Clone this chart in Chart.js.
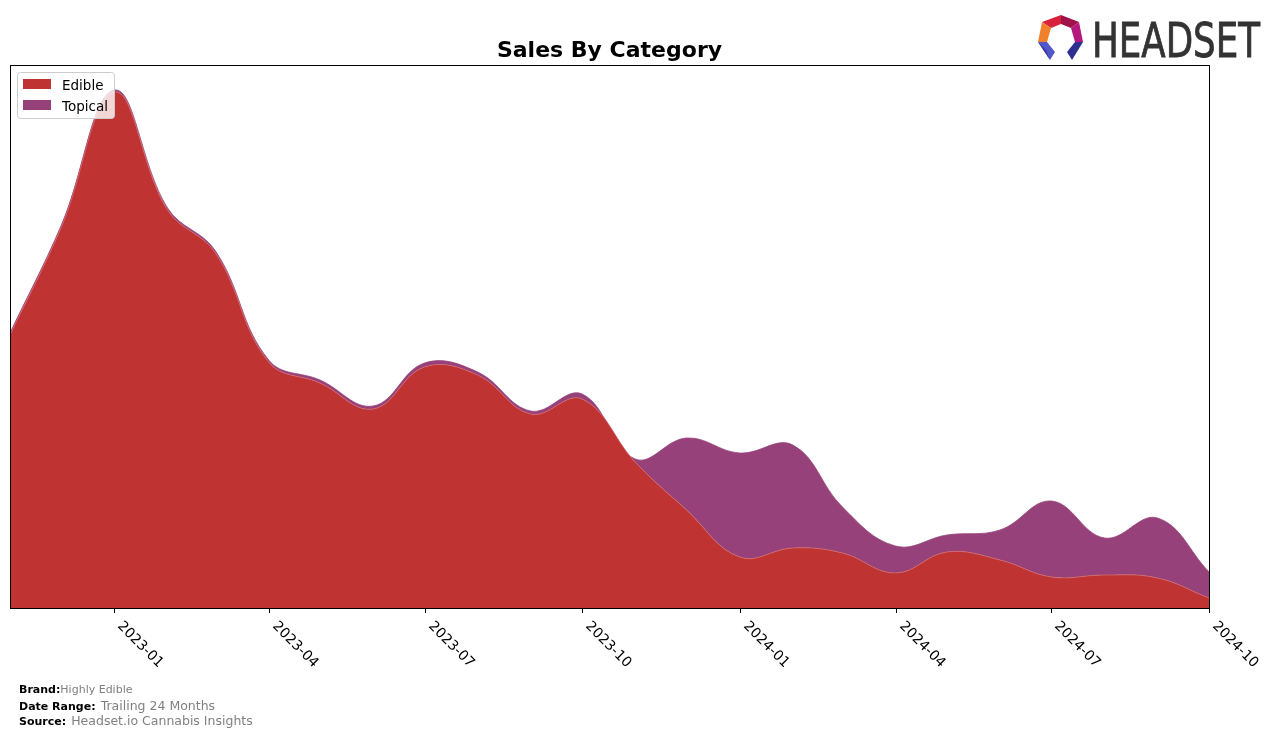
<!DOCTYPE html>
<html>
<head>
<meta charset="utf-8">
<script src="https://cdn.jsdelivr.net/npm/chart.js@4.4.1/dist/chart.umd.min.js"></script>
<style>
  body{margin:0;background:#fff;font-family:"DejaVu Sans",sans-serif;}
  #wrap{position:relative;width:1276px;height:738px;overflow:hidden;}
  #chart{position:absolute;left:0;top:0;}
  .foot{position:absolute;left:19px;white-space:nowrap;color:#000;}
  .foot b{font-size:11px;}
  .foot span{color:#808080;}
  #logo{position:absolute;left:1034px;top:12px;}
</style>
</head>
<body>
<div id="wrap">
  <canvas id="chart" width="1276" height="738"></canvas>

  <svg id="logo" width="235" height="52" viewBox="0 0 235 52">
    <!-- icon -->
    <polygon points="8,10 27,3 27,12 17,16" fill="#d8213b"/>
    <polygon points="27,3 45,10 37,16 27,12" fill="#a1124a"/>
    <polygon points="45,10 49,30 41,30 37,16" fill="#b6197d"/>
    <polygon points="8,10 17,16 13,30 4,30" fill="#f0802a"/>
    <polygon points="4,30 13,30 21,40 16,48" fill="#5057c8"/>
    <polygon points="49,30 41,30 33,40 38,48" fill="#2f2f90"/>
    <polygon points="4,30 16,48 12,38" fill="#3a3aa6"/>
    <text x="58" y="45" font-family="DejaVu Sans Condensed, DejaVu Sans, sans-serif" font-size="48" fill="#333333" stroke="#333333" stroke-width="0.8" textLength="168" lengthAdjust="spacingAndGlyphs">HEADSET</text>
  </svg>

  <div class="foot" style="top:678px;"><b>Brand:</b><span style="font-size:11px;">Highly Edible</span></div>
  <div class="foot" style="top:695px;"><b>Date Range:</b> <span style="font-size:12.5px;">Trailing 24 Months</span></div>
  <div class="foot" style="top:710px;"><b>Source:</b> <span style="font-size:12.5px;">Headset.io Cannabis Insights</span></div>
</div>

<script>
// monthly points
const months = ['2022-11','2022-12','2023-01','2023-02','2023-03','2023-04','2023-05','2023-06',
  '2023-07','2023-08','2023-09','2023-10','2023-11','2023-12','2024-01','2024-02',
  '2024-03','2024-04','2024-05','2024-06','2024-07','2024-08','2024-09','2024-10'];
const edible = [273,381,516,398,355,246,225,199,241,233,194,209,146,98,51,60,55,35,56,48,31,33,30,10];
const topical = [2,2,2,2,2,2,3,3,4,3,3,5,3,72,104,103,46,27,17,30,76,37,60,26];
const tickLabels = ['2023-01','2023-04','2023-07','2023-10','2024-01','2024-04','2024-07','2024-10'];
const seriesNames = ['Edible','Topical'];
const seriesColors = ['#c03333','#96417a'];

function toDay(m){
  const p = m.split('-');
  return Date.UTC(+p[0], +p[1]-1, 1) / 86400000;
}

const decor = {
  id:'decor',
  afterDraw(chart){
    const c = chart.ctx, a = chart.chartArea, xs = chart.scales.x;
    c.save();
    // frame
    c.strokeStyle = '#000'; c.lineWidth = 1;
    c.strokeRect(a.left+0.5, a.top+0.5, a.right-a.left, a.bottom-a.top);
    // ticks + rotated labels
    c.font = '14px "DejaVu Sans"'; c.fillStyle = '#000';
    tickLabels.forEach(t=>{
      const x = Math.round(xs.getPixelForValue(toDay(t))) + 0.5;
      c.beginPath(); c.moveTo(x, a.bottom); c.lineTo(x, a.bottom+5); c.stroke();
      c.save();
      c.translate(x, a.bottom+21);
      c.rotate(Math.PI/4);
      c.textAlign='left'; c.textBaseline='bottom';
      c.fillText(t, 0, 0);
      c.restore();
    });
    // title
    c.font = 'bold 22px "DejaVu Sans"'; c.textAlign='center'; c.textBaseline='middle';
    c.fillText('Sales By Category', (a.left+a.right)/2, 51);
    // legend
    c.fillStyle = 'rgba(255,255,255,0.8)'; c.strokeStyle = '#cccccc';
    c.beginPath(); c.roundRect(17.5, 72.5, 97, 46, 3); c.fill(); c.stroke();
    c.font = '13.5px "DejaVu Sans"'; c.textAlign='left';
    seriesNames.forEach((n,i)=>{
      c.fillStyle = seriesColors[i];
      c.fillRect(23, 79+i*21, 28, 10);
      c.fillStyle = '#000';
      c.fillText(n, 62, 86+i*21);
    });
    c.restore();
  }
};

new Chart(document.getElementById('chart'), {
  type:'line',
  data:{
    datasets:[
      {label:seriesNames[0], data:months.map((m,i)=>({x:toDay(m), y:edible[i]})),
       backgroundColor:seriesColors[0], borderColor:'#d06a70', borderWidth:0.8,
       fill:'origin', pointRadius:0, tension:0.4},
      {label:seriesNames[1], data:months.map((m,i)=>({x:toDay(m), y:topical[i]})),
       backgroundColor:seriesColors[1], borderColor:seriesColors[1], borderWidth:0.8,
       fill:'-1', pointRadius:0, tension:0.4}
    ]
  },
  options:{
    responsive:false, animation:false, devicePixelRatio:1,
    layout:{padding:{left:10, right:67, top:65, bottom:130}},
    plugins:{legend:{display:false}, title:{display:false}, tooltip:{enabled:false}},
    scales:{
      x:{type:'linear', display:false, min:toDay(months[0]), max:toDay(months[months.length-1])},
      y:{display:false, stacked:true, min:0, max:543}
    }
  },
  plugins:[decor]
});
</script>
</body>
</html>
